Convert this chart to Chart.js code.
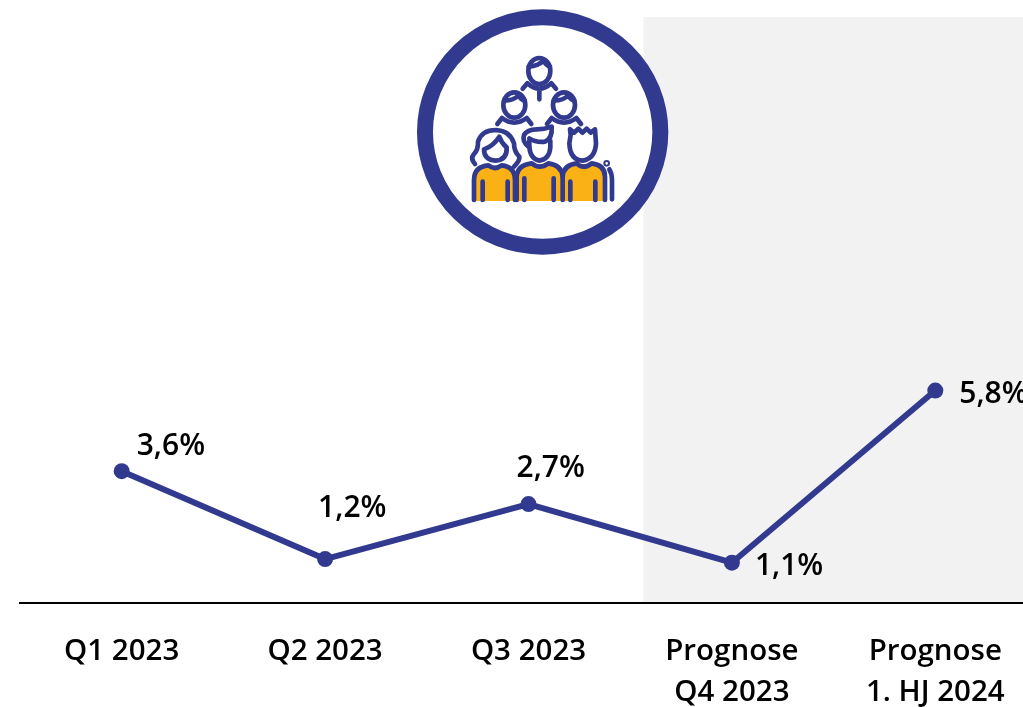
<!DOCTYPE html>
<html lang="de">
<head>
<meta charset="utf-8">
<title>Prognose</title>
<script src="https://cdn.jsdelivr.net/npm/chart.js@4/dist/chart.umd.min.js"></script>
<style>
    html, body { margin: 0; padding: 0; background: #fff; overflow: hidden; }
    #wrap { position: relative; width: 1023px; height: 707px; overflow: hidden; }
    #chart { position: absolute; left: 0; top: 0; }
    #icon { position: absolute; left: 410px; top: 0; }
</style>
</head>
<body>
<div id="wrap">
    <canvas id="chart" width="1045" height="707"></canvas>
    <!-- Symbol oben: Koordinaten wie im 3x-Ausschnitt -->
    <svg id="icon" width="270" height="260" viewBox="0 -30 810 780" fill="none" stroke="#313a8f" stroke-width="14" stroke-linecap="round" stroke-linejoin="round">
        <ellipse cx="398" cy="366" rx="353" ry="344" fill="#fff" stroke-width="48"/>
        <g fill="#fab115" stroke="none">
            <path d="M192 573V510Q192 470 235 466L253 472L275 466Q315 470 315 510V573Z"/>
            <path d="M322 573V500Q322 465 365 460L388 462L415 460Q455 465 455 500V573Z"/>
            <path d="M460 573V500Q460 465 500 460L520 462L545 460Q585 465 585 500V573Z"/>
        </g>
        <!-- oben -->
        <ellipse cx="388" cy="183" rx="33" ry="39"/>
        <path d="M356 170Q385 168 400 152Q408 166 420 170"/>
        <path d="M338 236L352 220Q388 252 424 220L438 236M388 240V268"/>
        <!-- Mitte -->
        <ellipse cx="313" cy="285" rx="33" ry="38"/>
        <path d="M282 272Q312 272 326 256Q332 268 344 272"/>
        <path d="M262 342L276 324Q313 352 350 324L364 342"/>
        <ellipse cx="462" cy="285" rx="33" ry="38"/>
        <path d="M431 272Q461 272 475 256Q481 268 493 272"/>
        <path d="M411 342L425 324Q462 352 499 324L513 342"/>
        <!-- unten links -->
        <path d="M195 462Q180 445 192 432Q205 420 204 395Q215 360 258 360Q300 362 312 400Q312 425 328 440Q330 452 312 470"/>
        <path d="M222 418Q250 408 268 380Q275 400 290 412Q292 450 256 452Q222 450 222 418Z"/>
        <path d="M192 570V510Q192 470 235 466Q253 482 275 466Q315 470 315 510V570"/>
        <path d="M218 515V570M293 515V570"/>
        <!-- unten Mitte -->
        <path d="M358 392V412Q362 448 388 452Q418 448 421 412V392"/>
        <path d="M358 412Q335 395 342 375Q352 358 380 358Q405 358 425 350Q428 385 405 395Q378 398 358 385"/>
        <path d="M320 570V500Q322 465 365 460Q388 480 415 460Q455 465 458 500V570"/>
        <path d="M343 505V570M431 505V570"/>
        <!-- unten rechts -->
        <path d="M482 375L478 400Q480 450 518 452Q556 445 558 400L555 358L542 368L530 356L517 368L505 356L492 368L480 358Z"/>
        <path d="M458 500Q460 465 500 460Q520 480 545 460Q585 465 585 500V570"/>
        <path d="M481 515V570M556 515V570"/>
        <circle cx="590" cy="460" r="3"/>
        <path d="M598 478Q606 490 606 510V568"/>
    </svg>
</div>

<script>
const categories = ['Q1 2023', 'Q2 2023', 'Q3 2023', ['Prognose', 'Q4 2023'], ['Prognose', '1. HJ 2024']];
const values = [3.6, 1.2, 2.7, 1.1, 5.8];

const BLUE = '#313a8f';
const FONT = '"Open Sans", "Noto Sans", sans-serif';

// Label-Versatz relativ zum Punkt
const labelOffsets = [[15, -25], [-7, -51], [-12, -36], [23, 4], [24, 4]];

const bandPlugin = {
    id: 'prognoseBand',
    beforeDraw(chart) {
        const { ctx, chartArea, scales } = chart;
        const start = scales.x.getPixelForValue(2.565);
        ctx.save();
        ctx.fillStyle = '#f2f2f2';
        ctx.fillRect(start, chartArea.top, chartArea.right - start, chartArea.bottom - chartArea.top);
        ctx.restore();
    }
};

const valueLabels = {
    id: 'valueLabels',
    afterDatasetsDraw(chart) {
        const { ctx } = chart;
        const meta = chart.getDatasetMeta(0);
        ctx.save();
        ctx.fillStyle = '#000';
        ctx.font = '600 30px ' + FONT;
        ctx.textAlign = 'left';
        ctx.textBaseline = 'middle';
        meta.data.forEach((pt, i) => {
            const txt = values[i].toFixed(1).replace('.', ',') + '%';
            ctx.fillText(txt, pt.x + labelOffsets[i][0], pt.y + labelOffsets[i][1]);
        });
        ctx.restore();
    }
};

new Chart(document.getElementById('chart'), {
    type: 'line',
    data: {
        labels: categories,
        datasets: [{
            data: values,
            borderColor: BLUE,
            backgroundColor: BLUE,
            borderWidth: 6,
            pointRadius: 8,
            pointBackgroundColor: BLUE,
            pointBorderWidth: 0,
            tension: 0,
            clip: false
        }]
    },
    options: {
        responsive: false,
        devicePixelRatio: 1,
        animation: false,
        layout: { padding: { left: 20, right: 6, top: 17, bottom: 0 } },
        plugins: { legend: { display: false }, tooltip: { enabled: false } },
        scales: {
            x: {
                offset: true,
                afterFit: s => { s.height = 104; },
                grid: { display: false, drawTicks: false },
                border: { display: true, color: '#000', width: 2 },
                ticks: {
                    color: '#000',
                    autoSkip: false,
                    maxRotation: 0,
                    padding: 28,
                    font: { family: FONT, size: 29.5, weight: '600', lineHeight: 1.39 }
                }
            },
            y: { display: false, min: 0, max: 16 }
        }
    },
    plugins: [bandPlugin, valueLabels]
});
</script>
</body>
</html>
